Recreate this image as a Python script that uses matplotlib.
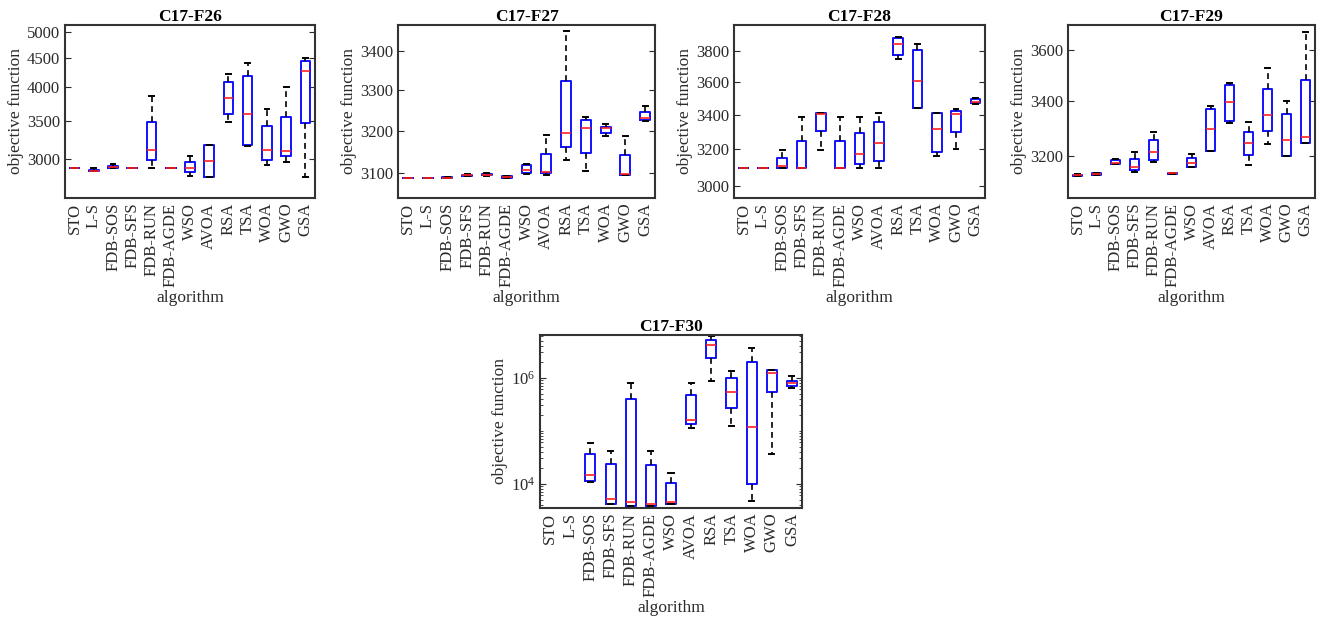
import numpy as np
import matplotlib
matplotlib.use('Agg')
import matplotlib.pyplot as plt
from matplotlib.ticker import (FixedLocator, NullLocator, FuncFormatter, LogLocator,
                               LogFormatterMathtext, NullFormatter)

plt.rcParams['font.family'] = ['Liberation Serif', 'DejaVu Serif']
plt.rcParams['mathtext.fontset'] = 'stix'

algos = ['STO', 'L-S', 'FDB-SOS', 'FDB-SFS', 'FDB-RUN', 'FDB-AGDE', 'WSO',
         'AVOA', 'RSA', 'TSA', 'WOA', 'GWO', 'GSA']

# box statistics per function (lower whisker, q1, median, q3, upper whisker)
f26_lo = [2890, 2855, 2895, 2890, 2890, 2890, 2806, 2788, 3479, 3165, 2929, 2968, 2788]
f26_q1 = [2890, 2858, 2900, 2890, 2985, 2890, 2847, 2788, 3592, 3176, 2985, 3032, 3464]
f26_md = [2890, 2862, 2903, 2890, 3113, 2890, 2890, 2980, 3829, 3592, 3115, 3105, 4271]
f26_q3 = [2890, 2872, 2924, 2890, 3487, 2890, 2964, 3172, 4087, 4187, 3428, 3558, 4445]
f26_hi = [2890, 2890, 2944, 2890, 3865, 2890, 3032, 3172, 4220, 4416, 3669, 4012, 4493]

f27_lo = [3088, 3088, 3088, 3092, 3093, 3088, 3097, 3094, 3129, 3103, 3187, 3094, 3223]
f27_q1 = [3088, 3088, 3088, 3093, 3094, 3088, 3098, 3098, 3162, 3146, 3194, 3094, 3225]
f27_md = [3088, 3088, 3088, 3094, 3095, 3090, 3106, 3102, 3194, 3206, 3206, 3097, 3232]
f27_q3 = [3088, 3088, 3089, 3095, 3097, 3092, 3117, 3145, 3324, 3227, 3210, 3141, 3247]
f27_hi = [3088, 3088, 3089, 3096, 3098, 3093, 3120, 3189, 3452, 3233, 3216, 3187, 3261]

f28_lo = [3100, 3100, 3100, 3100, 3194, 3100, 3100, 3100, 3744, 3440, 3164, 3200, 3465]
f28_q1 = [3100, 3100, 3100, 3100, 3305, 3100, 3122, 3136, 3772, 3440, 3184, 3299, 3467]
f28_md = [3100, 3100, 3109, 3100, 3406, 3100, 3173, 3238, 3843, 3604, 3318, 3406, 3477]
f28_q3 = [3100, 3100, 3153, 3248, 3410, 3248, 3295, 3356, 3887, 3804, 3410, 3423, 3495]
f28_hi = [3100, 3100, 3196, 3383, 3410, 3383, 3383, 3410, 3893, 3847, 3410, 3433, 3497]

f29_lo = [3132, 3134, 3172, 3146, 3180, 3137, 3164, 3218, 3320, 3170, 3245, 3200, 3246]
f29_q1 = [3132, 3135, 3172, 3152, 3188, 3138, 3164, 3220, 3329, 3206, 3291, 3200, 3246]
f29_md = [3134, 3138, 3176, 3164, 3217, 3140, 3176, 3297, 3397, 3246, 3348, 3257, 3270]
f29_q3 = [3136, 3140, 3186, 3190, 3260, 3142, 3194, 3372, 3461, 3287, 3448, 3353, 3481]
f29_hi = [3137, 3142, 3192, 3216, 3287, 3143, 3208, 3384, 3469, 3323, 3528, 3400, 3670]

f30_lo = [3495, 3495, 1.07e4, 4150, 3855, 3750, 4210, 1.11e5, 8.65e5, 1.20e5, 4660, 3.61e4, 6.3e5]
f30_q1 = [3495, 3495, 1.14e4, 4150, 3855, 3750, 4210, 1.32e5, 2.31e6, 2.73e5, 1.0e4, 5.46e5, 6.97e5]
f30_md = [3495, 3495, 1.43e4, 5230, 4460, 4210, 4520, 1.60e5, 4.11e6, 5.46e5, 1.15e5, 1.21e6, 8.05e5]
f30_q3 = [3495, 3495, 3.66e4, 2.34e4, 3.97e5, 2.21e4, 1.03e4, 4.72e5, 5.10e6, 9.86e5, 2.0e6, 1.39e6, 8.8e5]
f30_hi = [3495, 3495, 5.82e4, 4.05e4, 8.05e5, 4.05e4, 1.59e4, 8.05e5, 6.08e6, 1.33e6, 3.66e6, 1.39e6, 1.05e6]

W, H = 1332, 618
fig = plt.figure(figsize=(W / 100, H / 100), dpi=100)


def px_axes(x0, x1, y0, y1):
    return fig.add_axes([x0 / W, (H - y1) / H, (x1 - x0) / W, (y1 - y0) / H])


def draw_panel(ax, title, lo, q1, md, q3, hi, ylim, yticks):
    stats = []
    for i in range(len(algos)):
        stats.append(dict(whislo=lo[i], q1=q1[i], med=md[i], q3=q3[i], whishi=hi[i], fliers=[]))
    ax.bxp(stats, positions=np.arange(1, len(algos) + 1), widths=0.5,
           capwidths=0.25, showfliers=False,
           boxprops=dict(color='#1010ff', linewidth=1.4),
           medianprops=dict(color='#ff2020', linewidth=1.2),
           whiskerprops=dict(color='black', linewidth=1.2, linestyle=(0, (3.5, 2.5))),
           capprops=dict(color='black', linewidth=1.4))
    ax.set_yscale('log')
    ax.set_ylim(*ylim)
    ax.set_xlim(0.5, len(algos) + 0.5)
    ax.set_xticks(np.arange(1, len(algos) + 1))
    ax.set_xticklabels(algos, rotation=90, fontsize=12)
    if yticks is not None:
        ax.yaxis.set_major_locator(FixedLocator(yticks))
        ax.yaxis.set_major_formatter(FuncFormatter(lambda v, p: '%d' % round(v)))
        ax.yaxis.set_minor_locator(NullLocator())
    else:
        ax.yaxis.set_major_locator(FixedLocator([1e4, 1e6]))
        ax.yaxis.set_major_formatter(LogFormatterMathtext())
        ax.yaxis.set_minor_locator(LogLocator(base=10, subs=np.arange(1, 10)))
        ax.yaxis.set_minor_formatter(NullFormatter())
    ax.tick_params(axis='both', which='both', direction='in', top=True, right=True,
                   labelsize=12, colors='#2a2a2a')
    ax.tick_params(axis='x', length=0)
    ax.tick_params(axis='y', which='major', length=4)
    ax.tick_params(axis='y', which='minor', length=2)
    for s in ax.spines.values():
        s.set_linewidth(1.5)
        s.set_color('#333333')
    ax.set_title(title, fontsize=12.5, fontweight='bold', pad=3)
    ax.set_ylabel('objective function', fontsize=12.5, labelpad=2, color='#2a2a2a')
    ax.set_xlabel('algorithm', fontsize=12.5, labelpad=2, color='#2a2a2a')


ax1 = px_axes(65, 315, 25, 198)
draw_panel(ax1, 'C17-F26', f26_lo, f26_q1, f26_md, f26_q3, f26_hi,
           (2567, 5138), [3000, 3500, 4000, 4500, 5000])
ax2 = px_axes(398, 655, 25, 198)
draw_panel(ax2, 'C17-F27', f27_lo, f27_q1, f27_md, f27_q3, f27_hi,
           (3041, 3467), [3100, 3200, 3300, 3400])
ax3 = px_axes(734, 985, 25, 198)
draw_panel(ax3, 'C17-F28', f28_lo, f28_q1, f28_md, f28_q3, f28_hi,
           (2940, 3975), [3000, 3200, 3400, 3600, 3800])
ax4 = px_axes(1068, 1315, 25, 198)
draw_panel(ax4, 'C17-F29', f29_lo, f29_q1, f29_md, f29_q3, f29_hi,
           (3056, 3700), [3200, 3400, 3600])
ax5 = px_axes(540, 802, 335, 508)
draw_panel(ax5, 'C17-F30', f30_lo, f30_q1, f30_md, f30_q3, f30_hi,
           (3485, 6.35e6), None)

fig.savefig('out.png', dpi=100)
